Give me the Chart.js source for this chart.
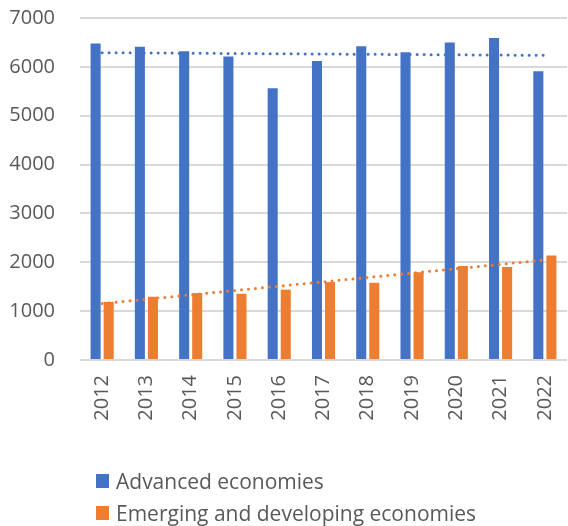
<!DOCTYPE html>
<html>
<head>
<meta charset="utf-8">
<script src="https://cdn.jsdelivr.net/npm/chart.js@4/dist/chart.umd.min.js"></script>
<style>
  html, body { margin: 0; padding: 0; background: #ffffff; }
  #wrap { position: relative; width: 568px; height: 526px; }
  #chart { position: absolute; left: 0; top: 0; }
  .legend { position: absolute; left: 96px; top: 465px; font-family: "Open Sans", sans-serif; font-size: 21px; color: #595959; }
  .legend .row { display: flex; align-items: center; height: 32px; }
  .legend .sw { width: 13px; height: 14px; margin-right: 7px; flex: none; }
</style>
</head>
<body>
<div id="wrap">
  <canvas id="chart" width="568" height="526"></canvas>
  <div class="legend" id="legend"></div>
</div>
<script>
// Years on the category axis
const years = ['2012', '2013', '2014', '2015', '2016', '2017', '2018', '2019', '2020', '2021', '2022'];

// Series values
const advanced = [6480, 6410, 6320, 6210, 5560, 6120, 6420, 6300, 6500, 6590, 5910];
const emerging = [1190, 1295, 1370, 1355, 1440, 1595, 1580, 1795, 1925, 1905, 2140];

// Linear trend lines: values at the first and last year
const advancedTrend = [6290, 6236];
const emergingTrend = [1155, 2047];

// Y axis ticks
const yTicks = [0, 1000, 2000, 3000, 4000, 5000, 6000, 7000];

const seriesNames = ['Advanced economies', 'Emerging and developing economies'];
const BLUE = '#4472C4';
const ORANGE = '#ED7D31';
const TEXT = '#595959';
const GRID = '#d9d9d9';
const FONT = '"Open Sans", sans-serif';

function trendSeries(ends) {
  const arr = years.map(() => null);
  arr[0] = ends[0];
  arr[arr.length - 1] = ends[1];
  return arr;
}

const trendStyle = {
  type: 'line',
  borderWidth: 3,
  borderDash: [0, 7],
  borderCapStyle: 'round',
  pointRadius: 0,
  pointHoverRadius: 0,
  spanGaps: true,
  fill: false,
  order: 1
};

new Chart(document.getElementById('chart'), {
  type: 'bar',
  data: {
    labels: years,
    datasets: [
      { label: seriesNames[0], data: advanced, backgroundColor: BLUE, order: 2,
        categoryPercentage: 0.59, barPercentage: 0.77 },
      { label: seriesNames[1], data: emerging, backgroundColor: ORANGE, order: 2,
        categoryPercentage: 0.59, barPercentage: 0.77 },
      Object.assign({ label: 'trend-a', data: trendSeries(advancedTrend), borderColor: BLUE }, trendStyle),
      Object.assign({ label: 'trend-e', data: trendSeries(emergingTrend), borderColor: ORANGE }, trendStyle)
    ]
  },
  options: {
    responsive: false,
    animation: false,
    layout: { padding: { top: 18, right: 1, left: 0, bottom: 96 } },
    plugins: { legend: { display: false }, tooltip: { enabled: false } },
    scales: {
      x: {
        grid: { display: false, drawTicks: false },
        border: { display: false },
        ticks: {
          color: TEXT, font: { family: FONT, size: 20 },
          maxRotation: 90, minRotation: 90, padding: 15
        },
        afterFit(axis) {
          axis.height = 70;
          axis.paddingLeft = 0;
          axis.paddingRight = 0;
        }
      },
      y: {
        min: 0, max: 7000,
        afterBuildTicks(axis) { axis.ticks = yTicks.map(v => ({ value: v })); },
        grid: { color: GRID, lineWidth: 2, drawTicks: false },
        border: { display: false },
        ticks: {
          color: TEXT, font: { family: FONT, size: 20 }, padding: 25,
          callback: v => String(v)
        },
        afterFit(axis) {
          axis.width = 80;
          axis.paddingTop = 0;
          axis.paddingBottom = 0;
        }
      }
    }
  }
});

// Legend entries for the two bar series
const legend = document.getElementById('legend');
[BLUE, ORANGE].forEach((c, i) => {
  const row = document.createElement('div');
  row.className = 'row';
  const sw = document.createElement('span');
  sw.className = 'sw';
  sw.style.background = c;
  const t = document.createElement('span');
  t.textContent = seriesNames[i];
  row.appendChild(sw);
  row.appendChild(t);
  legend.appendChild(row);
});
</script>
</body>
</html>
